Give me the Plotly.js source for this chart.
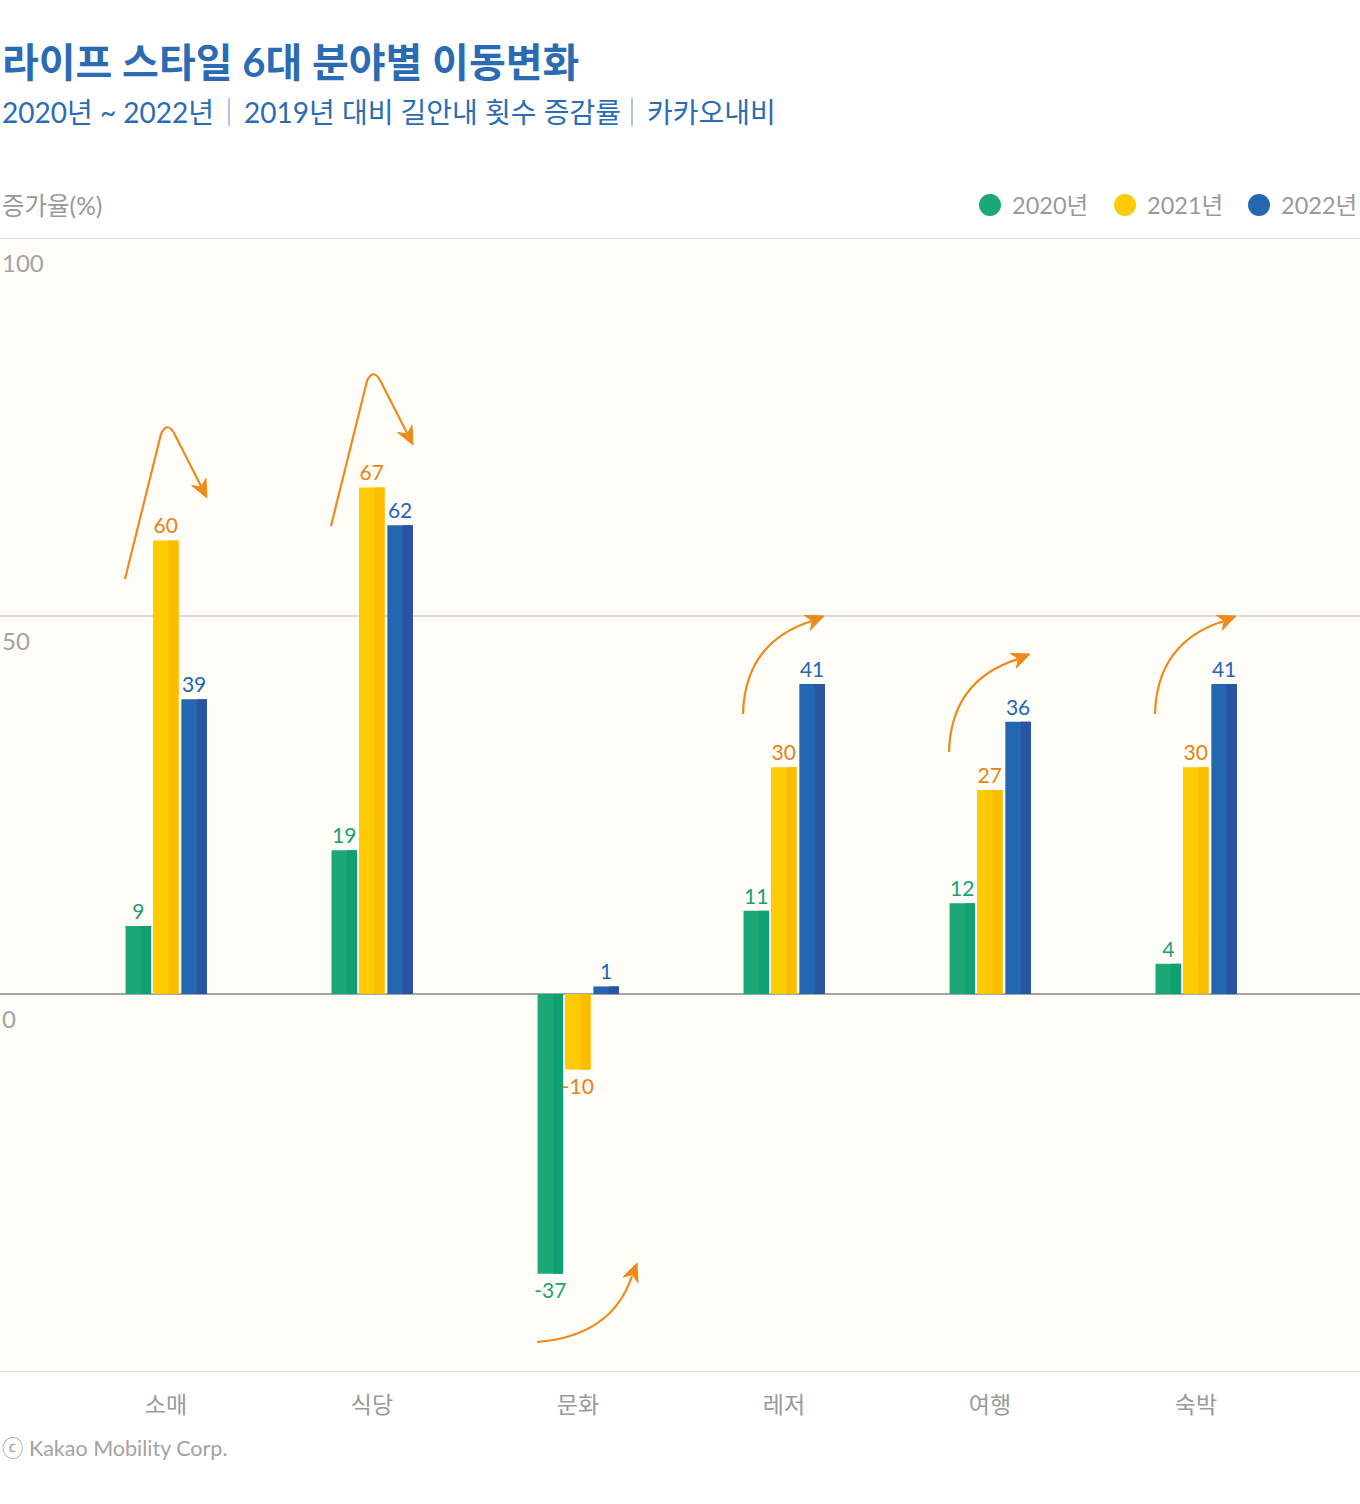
<!DOCTYPE html>
<html>
<head>
<meta charset="utf-8">
<script src="https://cdn.plot.ly/plotly-3.0.1.min.js"></script>
<style>
html,body{margin:0;padding:0;background:#ffffff;}
#chart{width:1360px;height:1504px;}
</style>
</head>
<body>
<div id="chart"></div>
<script>
// ---- data ----
const categories = ['소매', '식당', '문화', '레저', '여행', '숙박'];
const seriesNames = ['2020년', '2021년', '2022년'];
const v2020 = [9, 19, -37, 11, 12, 4];
const v2021 = [60, 67, -10, 30, 27, 30];
const v2022 = [39, 62, 1, 41, 36, 41];
const yTickVals = [100, 50, 0];
const yGridVals = [100, 50, -50];

// ---- style ----
const FONT = "Lato, 'Noto Sans CJK KR', 'Noto Sans', sans-serif";
const W = 1360, H = 1504;
const M = {l: 0, r: 0, t: 238, b: 132};
const plotH = H - M.t - M.b;
const mainColors = ['#1ba876', '#ffcb05', '#2467b1'];
const stripeColors = ['#11a071', '#fcbc00', '#2b53a1'];
const labelColors = ['#1ba06f', '#e8830f', '#2467b1'];
const ARROW = '#ec8a1c';

const barW = 0.124;
const offsets = [-0.1966, -0.0631, 0.0743];
const stripeW = 0.049;

const values = [v2020, v2021, v2022];
const traces = [];
values.forEach((vals, i) => {
  traces.push({
    type: 'bar', x: categories, y: vals, name: seriesNames[i],
    offset: offsets[i], width: barW,
    marker: {color: mainColors[i], line: {width: 0}},
    text: vals.map(String), textposition: 'outside', constraintext: 'none',
    cliponaxis: false,
    textfont: {family: FONT, size: 21, color: labelColors[i]},
    showlegend: false, hoverinfo: 'x+y'
  });
  traces.push({
    type: 'bar', x: categories, y: vals, name: seriesNames[i] + ' shade',
    offset: offsets[i] + barW - stripeW, width: stripeW,
    marker: {color: stripeColors[i], line: {width: 0}},
    showlegend: false, hoverinfo: 'skip'
  });
});

// pixel -> paper helpers (for decorations only)
const px = x => (x - M.l) / (W - M.l - M.r);
const py = y => (H - M.b - y) / plotH;

function pathStr(pts) {
  return pts.map(p => {
    if (p[0] === 'Q') return `Q${px(p[1])},${py(p[2])} ${px(p[3])},${py(p[4])}`;
    return `${p[0]}${px(p[1])},${py(p[2])}`;
  }).join(' ');
}
function head(tx, ty, fx, fy) {
  const dx = tx - fx, dy = ty - fy, L = Math.hypot(dx, dy);
  const ux = dx / L, uy = dy / L;
  const len = 18, hw = 8;
  const bx = tx - ux * len, by = ty - uy * len;
  const nx = tx - ux * len * 0.7, ny = ty - uy * len * 0.7;
  return `M${px(tx)},${py(ty)} L${px(bx - uy * hw)},${py(by + ux * hw)} L${px(nx)},${py(ny)} L${px(bx + uy * hw)},${py(by - ux * hw)} Z`;
}

const shapes = [];
// gridlines (including the range edges)
yGridVals.forEach(v => {
  shapes.push({type: 'line', xref: 'paper', yref: 'y', x0: 0, x1: 1, y0: v, y1: v,
    line: {color: '#dcdcdc', width: 1.8}, layer: 'below'});
});
function addLine(path) {
  shapes.push({type: 'path', xref: 'paper', yref: 'paper', path: path,
    line: {color: ARROW, width: 2.2}, fillcolor: 'rgba(0,0,0,0)', layer: 'above'});
}
function addHead(h) {
  shapes.push({type: 'path', xref: 'paper', yref: 'paper', path: h,
    line: {color: ARROW, width: 1}, fillcolor: ARROW, layer: 'above'});
}
// peaked arrows (up then down)
[[0, 0], [206, -53]].forEach(([dx, dy]) => {
  const s = [125 + dx, 579 + dy];
  addLine(pathStr([['M', s[0], s[1]], ['L', 161 + dx, 434 + dy],
    ['Q', 167 + dx, 421 + dy, 174 + dx, 433 + dy], ['L', 201 + dx, 486 + dy]]));
  addHead(head(207 + dx, 498 + dy, 174 + dx, 433 + dy));
});
// curved arrows rising to the right
[[743, 714, 824, 616], [949, 752, 1030, 654], [1155, 714, 1236, 616]].forEach(([sx, sy, tx, ty]) => {
  const cx = sx + 2, cy = ty + 26;
  const ex = tx - 12, ey = ty + 5;
  addLine(pathStr([['M', sx, sy], ['Q', cx, cy, ex, ey]]));
  addHead(head(tx, ty, cx + 20, cy - 2));
});
// culture arrow
addLine(pathStr([['M', 537, 1342], ['Q', 612, 1336, 632, 1276]]));
addHead(head(637, 1263, 622, 1302));

// subtitle separators (thin vertical bars)
[229, 632].forEach(x => {
  shapes.push({type: 'line', xref: 'paper', yref: 'paper', x0: px(x), x1: px(x), y0: py(98), y1: py(126),
    line: {color: '#8fb0d8', width: 1.5}});
});

// legend circles
const legendX = [990, 1125, 1259];
legendX.forEach((x, i) => {
  shapes.push({type: 'circle', xref: 'paper', yref: 'paper',
    x0: px(x - 11), x1: px(x + 11), y0: py(205 + 11), y1: py(205 - 11),
    fillcolor: mainColors[i], line: {width: 0}});
});

const annotations = [];
annotations.push({xref: 'paper', yref: 'paper', x: px(0), y: py(62), xanchor: 'left', yanchor: 'middle',
  text: '<b>라이프 스타일 6대 분야별 이동변화</b>', showarrow: false,
  font: {family: FONT, size: 40, color: '#2a6bb4'}});
const subParts = ['2020년 ~ 2022년', '2019년 대비 길안내 횟수 증감률', '카카오내비'];
const subX = [0, 242, 645];
subParts.forEach((t, i) => {
  annotations.push({xref: 'paper', yref: 'paper', x: px(subX[i]), y: py(112), xanchor: 'left', yanchor: 'middle',
    text: t, showarrow: false, font: {family: FONT, size: 28, color: '#2a6bb4'}});
});
annotations.push({xref: 'paper', yref: 'paper', x: px(0), y: py(205), xanchor: 'left', yanchor: 'middle',
  text: '증가율(%)', showarrow: false, font: {family: FONT, size: 24.5, color: '#999999'}});
legendX.forEach((x, i) => {
  annotations.push({xref: 'paper', yref: 'paper', x: px(x + 20), y: py(205), xanchor: 'left', yanchor: 'middle',
    text: seriesNames[i], showarrow: false, font: {family: FONT, size: 23.5, color: '#999999'}});
});
yTickVals.forEach(v => {
  annotations.push({xref: 'paper', yref: 'y', x: 0, y: v, xanchor: 'left', yanchor: 'top', yshift: -8,
    text: String(v), showarrow: false, font: {family: FONT, size: 24, color: '#a3a3a3'}});
});
annotations.push({xref: 'paper', yref: 'paper', x: px(0), y: py(1448), xanchor: 'left', yanchor: 'middle',
  text: 'ⓒ Kakao Mobility Corp.', showarrow: false, font: {family: FONT, size: 21.5, color: '#a3a3a3'}});

const layout = {
  width: W, height: H,
  margin: M,
  paper_bgcolor: '#ffffff',
  plot_bgcolor: '#fffdf7',
  barmode: 'overlay',
  showlegend: false,
  font: {family: FONT},
  xaxis: {
    type: 'category', range: [-0.806, 5.796], showgrid: false, zeroline: false,
    showline: false, ticks: '', ticklabelstandoff: 17,
    tickfont: {family: FONT, size: 23, color: '#999999'}, fixedrange: true
  },
  yaxis: {
    range: [-50, 100], tickvals: [-50, 0, 50, 100], showticklabels: false,
    showgrid: false,
    zeroline: true, zerolinecolor: '#a5a5a5', zerolinewidth: 2,
    showline: false, ticks: '', fixedrange: true
  },
  shapes: shapes,
  annotations: annotations
};

Plotly.newPlot('chart', traces, layout, {staticPlot: true, displayModeBar: false});
</script>
</body>
</html>
